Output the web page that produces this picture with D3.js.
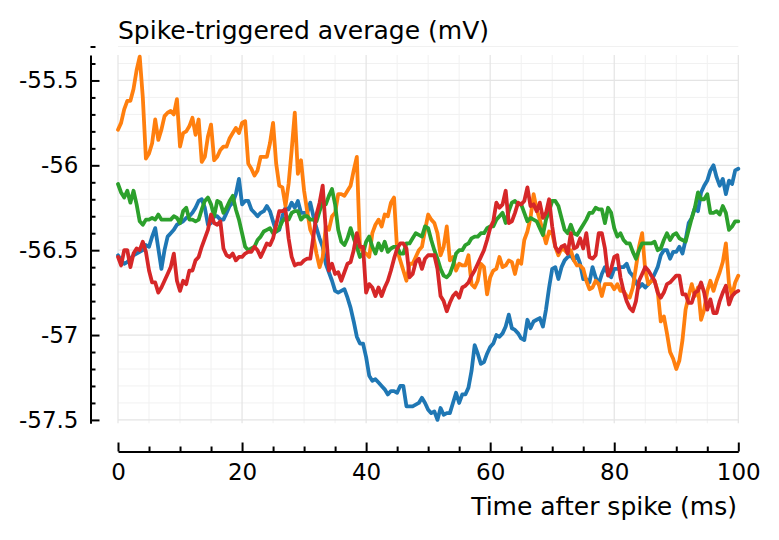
<!DOCTYPE html>
<html>
<head>
<meta charset="utf-8">
<script src="https://cdn.jsdelivr.net/npm/d3@7"></script>
<style>
  html, body { margin: 0; padding: 0; background: #fff; }
  svg { display: block; font-family: "DejaVu Sans", sans-serif; }
</style>
</head>
<body>
<svg id="chart" width="779" height="540"></svg>
<script>
// ---------------- data ----------------
const titleText = "Spike-triggered average (mV)";
const xLabelText = "Time after spike (ms)";
const seriesNames = ["blue", "orange", "green", "red"];
const seriesColors = ["#1f77b4", "#ff7f0e", "#2ca02c", "#d62728"];
const xTicks = [0, 20, 40, 60, 80, 100];
const xMinorTicks = [5, 10, 15, 25, 30, 35, 45, 50, 55, 65, 70, 75, 85, 90, 95];
const yTicks = [-55.5, -56, -56.5, -57, -57.5];
const yTickLabels = ["-55.5", "-56", "-56.5", "-57", "-57.5"];
const xLimits = [0, 100];
const yLimits = [-57.52, -55.35];
// sample times (ms), 0.5 ms apart
const timeMs = d3.range(0, 100.0001, 0.5);

const blueMv = [
-56.53,-56.56,-56.58,-56.57,-56.55,-56.53,-56.52,-56.51,-56.50,-56.47,
-56.48,-56.42,-56.37,-56.49,-56.61,-56.50,-56.42,-56.40,-56.38,-56.35,
-56.34,-56.33,-56.31,-56.30,-56.28,-56.25,-56.21,-56.20,-56.25,-56.35,
-56.34,-56.30,-56.30,-56.32,-56.32,-56.28,-56.24,-56.22,-56.17,-56.08,
-56.23,-56.21,-56.21,-56.26,-56.28,-56.30,-56.28,-56.27,-56.24,-56.27,
-56.33,-56.39,-56.38,-56.30,-56.25,-56.26,-56.22,-56.25,-56.21,-56.28,
-56.28,-56.28,-56.22,-56.30,-56.37,-56.43,-56.48,-56.58,-56.63,-56.68,
-56.74,-56.75,-56.74,-56.73,-56.78,-56.84,-56.92,-57.01,-57.05,-57.05,
-57.13,-57.24,-57.27,-57.26,-57.28,-57.30,-57.32,-57.35,-57.33,-57.33,
-57.34,-57.30,-57.30,-57.42,-57.42,-57.42,-57.41,-57.40,-57.37,-57.40,
-57.44,-57.46,-57.45,-57.50,-57.43,-57.47,-57.46,-57.46,-57.40,-57.34,
-57.40,-57.35,-57.35,-57.31,-57.21,-57.06,-57.11,-57.17,-57.16,-57.11,
-57.07,-57.05,-57.00,-57.01,-56.99,-56.95,-56.88,-56.96,-56.97,-56.99,
-57.02,-57.03,-56.91,-56.96,-56.92,-56.91,-56.90,-56.95,-56.85,-56.72,
-56.61,-56.60,-56.67,-56.60,-56.56,-56.54,-56.53,-56.56,-56.53,-56.58,
-56.67,-56.67,-56.69,-56.60,-56.66,-56.70,-56.64,-56.60,-56.64,-56.66,
-56.61,-56.61,-56.60,-56.60,-56.58,-56.63,-56.65,-56.69,-56.72,-56.70,
-56.72,-56.70,-56.68,-56.64,-56.60,-56.53,-56.50,-56.50,-56.55,-56.51,
-56.51,-56.48,-56.52,-56.44,-56.34,-56.31,-56.25,-56.27,-56.16,-56.12,
-56.09,-56.03,-56.00,-56.07,-56.12,-56.08,-56.17,-56.09,-56.11,-56.03,
-56.02];

const orangeMv = [
-55.79,-55.75,-55.67,-55.62,-55.62,-55.55,-55.44,-55.36,-55.60,-55.96,
-55.93,-55.87,-55.73,-55.85,-55.79,-55.71,-55.69,-55.68,-55.70,-55.61,
-55.89,-55.81,-55.80,-55.77,-55.72,-55.82,-55.73,-55.98,-55.95,-55.83,
-55.76,-55.97,-55.95,-55.91,-55.89,-55.89,-55.84,-55.81,-55.78,-55.81,
-55.75,-55.74,-55.99,-56.02,-56.06,-56.03,-55.95,-55.95,-55.95,-55.87,
-55.75,-55.99,-56.12,-56.13,-56.24,-56.11,-55.91,-55.69,-56.05,-55.97,
-56.15,-56.27,-56.38,-56.42,-56.52,-56.60,-56.54,-56.36,-56.38,-56.30,
-56.28,-56.17,-56.17,-56.18,-56.15,-56.12,-56.03,-55.95,-56.48,-56.51,
-56.52,-56.54,-56.40,-56.35,-56.32,-56.36,-56.29,-56.30,-56.22,-56.19,
-56.50,-56.56,-56.62,-56.68,-56.58,-56.58,-56.54,-56.50,-56.48,-56.38,
-56.29,-56.32,-56.34,-56.40,-56.53,-56.48,-56.36,-56.56,-56.54,-56.62,
-56.58,-56.59,-56.59,-56.53,-56.70,-56.72,-56.68,-56.58,-56.60,-56.76,
-56.66,-56.62,-56.61,-56.54,-56.60,-56.59,-56.56,-56.57,-56.64,-56.56,
-56.58,-56.44,-56.39,-56.31,-56.17,-56.26,-56.32,-56.39,-56.46,-56.39,
-56.40,-56.48,-56.53,-56.49,-56.50,-56.52,-56.50,-56.56,-56.59,-56.59,
-56.61,-56.68,-56.73,-56.72,-56.68,-56.70,-56.77,-56.70,-56.70,-56.70,
-56.73,-56.70,-56.74,-56.74,-56.77,-56.78,-56.72,-56.60,-56.48,-56.40,
-56.62,-56.70,-56.68,-56.68,-56.74,-56.92,-56.89,-56.99,-57.10,-57.14,
-57.20,-57.15,-57.03,-56.85,-56.77,-56.70,-56.77,-56.72,-56.91,-56.85,
-56.74,-56.68,-56.74,-56.68,-56.63,-56.57,-56.46,-56.70,-56.77,-56.69,
-56.65];

const greenMv = [
-56.11,-56.16,-56.19,-56.15,-56.22,-56.15,-56.23,-56.33,-56.35,-56.32,
-56.32,-56.31,-56.32,-56.29,-56.32,-56.32,-56.32,-56.32,-56.30,-56.31,
-56.34,-56.27,-56.25,-56.32,-56.32,-56.33,-56.32,-56.26,-56.21,-56.19,
-56.23,-56.30,-56.21,-56.22,-56.28,-56.25,-56.21,-56.18,-56.26,-56.32,
-56.40,-56.48,-56.50,-56.49,-56.48,-56.44,-56.42,-56.39,-56.38,-56.37,
-56.40,-56.39,-56.37,-56.33,-56.31,-56.32,-56.28,-56.27,-56.27,-56.32,
-56.30,-56.30,-56.32,-56.32,-56.33,-56.27,-56.22,-56.23,-56.18,-56.14,
-56.23,-56.38,-56.45,-56.47,-56.43,-56.37,-56.43,-56.48,-56.54,-56.52,
-56.45,-56.42,-56.48,-56.52,-56.46,-56.50,-56.45,-56.51,-56.49,-56.48,
-56.48,-56.52,-56.52,-56.46,-56.46,-56.43,-56.40,-56.41,-56.42,-56.36,
-56.37,-56.44,-56.50,-56.55,-56.61,-56.65,-56.66,-56.64,-56.59,-56.52,
-56.50,-56.50,-56.47,-56.46,-56.43,-56.42,-56.42,-56.40,-56.40,-56.37,
-56.36,-56.36,-56.32,-56.30,-56.28,-56.34,-56.27,-56.22,-56.21,-56.23,
-56.23,-56.28,-56.33,-56.31,-56.32,-56.33,-56.37,-56.41,-56.32,-56.27,
-56.21,-56.21,-56.24,-56.31,-56.38,-56.40,-56.35,-56.40,-56.41,-56.38,
-56.35,-56.32,-56.28,-56.28,-56.25,-56.26,-56.26,-56.34,-56.25,-56.28,
-56.37,-56.42,-56.40,-56.44,-56.46,-56.46,-56.51,-56.55,-56.50,-56.46,
-56.46,-56.46,-56.46,-56.45,-56.50,-56.49,-56.44,-56.40,-56.44,-56.41,
-56.40,-56.43,-56.44,-56.45,-56.38,-56.31,-56.25,-56.16,-56.20,-56.20,
-56.17,-56.28,-56.28,-56.27,-56.29,-56.24,-56.28,-56.38,-56.36,-56.33,
-56.33];

const redMv = [
-56.54,-56.59,-56.50,-56.50,-56.60,-56.52,-56.49,-56.50,-56.45,-56.51,
-56.62,-56.69,-56.69,-56.75,-56.72,-56.68,-56.64,-56.60,-56.52,-56.68,
-56.74,-56.68,-56.70,-56.62,-56.62,-56.56,-56.54,-56.48,-56.43,-56.38,
-56.29,-56.34,-56.35,-56.33,-56.49,-56.53,-56.54,-56.52,-56.56,-56.54,
-56.54,-56.52,-56.51,-56.51,-56.48,-56.50,-56.54,-56.50,-56.46,-56.47,
-56.43,-56.35,-56.27,-56.27,-56.26,-56.43,-56.54,-56.59,-56.58,-56.58,
-56.56,-56.55,-56.55,-56.42,-56.29,-56.22,-56.12,-56.38,-56.62,-56.58,
-56.64,-56.63,-56.68,-56.63,-56.58,-56.57,-56.50,-56.40,-56.48,-56.48,
-56.75,-56.70,-56.72,-56.77,-56.72,-56.77,-56.72,-56.68,-56.62,-56.55,
-56.49,-56.46,-56.46,-56.49,-56.66,-56.64,-56.57,-56.55,-56.61,-56.55,
-56.53,-56.53,-56.53,-56.61,-56.77,-56.80,-56.86,-56.81,-56.77,-56.75,
-56.78,-56.72,-56.71,-56.69,-56.65,-56.62,-56.58,-56.54,-56.50,-56.44,
-56.37,-56.33,-56.22,-56.25,-56.23,-56.15,-56.34,-56.33,-56.28,-56.22,
-56.23,-56.21,-56.13,-56.24,-56.23,-56.27,-56.22,-56.31,-56.28,-56.20,
-56.36,-56.48,-56.51,-56.48,-56.47,-56.52,-56.40,-56.49,-56.48,-56.43,
-56.49,-56.40,-56.54,-56.55,-56.53,-56.40,-56.40,-56.49,-56.65,-56.61,
-56.54,-56.53,-56.66,-56.74,-56.80,-56.84,-56.86,-56.80,-56.68,-56.64,
-56.60,-56.62,-56.65,-56.68,-56.75,-56.78,-56.75,-56.70,-56.69,-56.67,
-56.65,-56.65,-56.76,-56.76,-56.81,-56.81,-56.75,-56.74,-56.69,-56.75,
-56.85,-56.79,-56.87,-56.87,-56.80,-56.75,-56.71,-56.82,-56.77,-56.75,
-56.74];

const seriesValues = [blueMv, orangeMv, greenMv, redMv];

// ---------------- layout ----------------
const svg = d3.select("#chart");
const plot = { left: 118, right: 738.3, top: 55, bottom: 423.3 };
const yAxisX = 90.5;
const xAxisY = 451.5;
const tickFont = 23;
const labelFont = 25;

const x = d3.scaleLinear().domain(xLimits).range([plot.left, plot.right]);
const y = d3.scaleLinear().domain(yLimits).range([plot.bottom, plot.top]);

// minor y grid values every 0.1 within limits
const yMinor = d3.range(-57.5, -55.3, 0.1).map(v => +v.toFixed(2)).filter(v => !yTicks.some(t => Math.abs(t - v) < 1e-6));

const grid = svg.append("g");
grid.selectAll("line.vmin").data(xMinorTicks).join("line")
  .attr("class", "vmin")
  .attr("x1", d => x(d)).attr("x2", d => x(d))
  .attr("y1", plot.top).attr("y2", plot.bottom)
  .attr("stroke", "#f1f1f1").attr("stroke-width", 1);
grid.selectAll("line.hmin").data(yMinor).join("line")
  .attr("class", "hmin")
  .attr("x1", plot.left).attr("x2", plot.right)
  .attr("y1", d => y(d)).attr("y2", d => y(d))
  .attr("stroke", "#f1f1f1").attr("stroke-width", 1);
grid.selectAll("line.vmaj").data(xTicks).join("line")
  .attr("class", "vmaj")
  .attr("x1", d => x(d)).attr("x2", d => x(d))
  .attr("y1", plot.top).attr("y2", plot.bottom)
  .attr("stroke", "#e4e4e4").attr("stroke-width", 1.2);
grid.selectAll("line.hmaj").data(yTicks).join("line")
  .attr("class", "hmaj")
  .attr("x1", plot.left).attr("x2", plot.right)
  .attr("y1", d => y(d)).attr("y2", d => y(d))
  .attr("stroke", "#e4e4e4").attr("stroke-width", 1.2);

// lines
const line = d3.line()
  .x((d, i) => x(timeMs[i]))
  .y(d => y(d))
  .curve(d3.curveLinear);

svg.append("g").selectAll("path").data(seriesValues).join("path")
  .attr("d", d => line(d))
  .attr("fill", "none")
  .attr("stroke", (d, i) => seriesColors[i])
  .attr("stroke-width", 3.8)
  .attr("stroke-linejoin", "round")
  .attr("stroke-linecap", "round");

// y axis (ticks pointing inward / right, labels left)
const yAxisG = svg.append("g").attr("transform", `translate(${yAxisX},0)`)
  .call(d3.axisLeft(y).tickValues(yTicks)
    .tickFormat((d, i) => yTickLabels[i])
    .tickSizeInner(-9).tickSizeOuter(0).tickPadding(12));
yAxisG.select(".domain").attr("stroke", "#000").attr("stroke-width", 2);
yAxisG.selectAll(".tick line").attr("stroke", "#000").attr("stroke-width", 2);
yAxisG.selectAll(".tick text")
  .attr("font-family", "DejaVu Sans").attr("font-size", tickFont).attr("fill", "#000");

const yMinorG = svg.append("g").attr("transform", `translate(${yAxisX},0)`)
  .call(d3.axisLeft(y).tickValues(yMinor).tickFormat("").tickSizeInner(-5).tickSizeOuter(0));
yMinorG.select(".domain").remove();
yMinorG.selectAll(".tick line").attr("stroke", "#000").attr("stroke-width", 2);

// x axis (ticks upward)
const xAxisG = svg.append("g").attr("transform", `translate(0,${xAxisY})`)
  .call(d3.axisBottom(x).tickValues(xTicks).tickFormat(d3.format("d"))
    .tickSizeInner(-9).tickSizeOuter(0).tickPadding(12));
xAxisG.select(".domain").attr("stroke", "#000").attr("stroke-width", 2);
xAxisG.selectAll(".tick line").attr("stroke", "#000").attr("stroke-width", 2);
xAxisG.selectAll(".tick text")
  .attr("font-family", "DejaVu Sans").attr("font-size", tickFont).attr("fill", "#000");

const xMinorG = svg.append("g").attr("transform", `translate(0,${xAxisY})`)
  .call(d3.axisBottom(x).tickValues(xMinorTicks).tickFormat("").tickSizeInner(-5).tickSizeOuter(0));
xMinorG.select(".domain").remove();
xMinorG.selectAll(".tick line").attr("stroke", "#000").attr("stroke-width", 2);

// title (acts as y label) and x label
svg.append("text")
  .attr("x", plot.left).attr("y", 39)
  .attr("font-family", "DejaVu Sans").attr("font-size", labelFont)
  .attr("fill", "#000").attr("text-anchor", "start")
  .text(titleText);

svg.append("text")
  .attr("x", 737).attr("y", 515)
  .attr("font-family", "DejaVu Sans").attr("font-size", labelFont)
  .attr("fill", "#000").attr("text-anchor", "end")
  .text(xLabelText);
</script>
</body>
</html>
